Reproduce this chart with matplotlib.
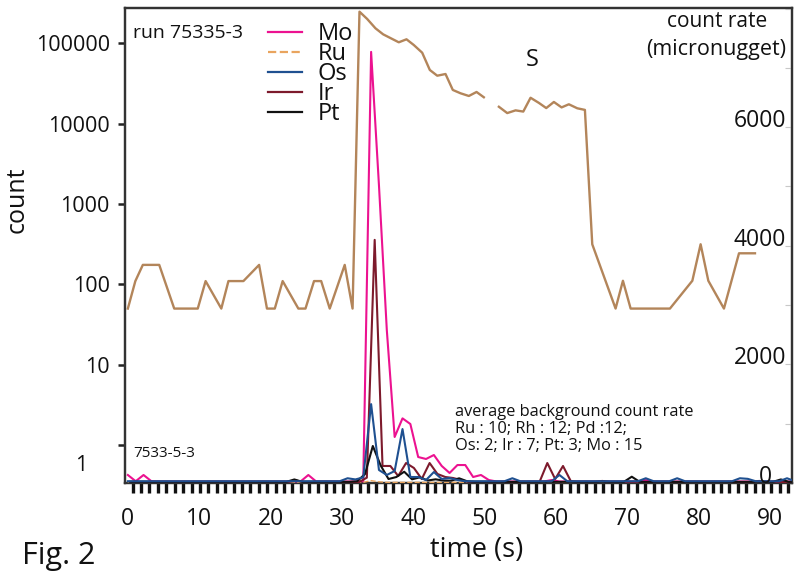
import numpy as np
import matplotlib
matplotlib.use('Agg')
import matplotlib.pyplot as plt
from matplotlib.transforms import blended_transform_factory as btf
from matplotlib.ticker import FixedLocator

plt.rcParams['font.family'] = ['Open Sans', 'DejaVu Sans']

# ---------------- data ----------------
# S (count, log scale, left axis)
t_s = [0, 1.05, 2.1, 4.4, 6.5, 9.8, 10.9, 13.1, 14.1, 16.2,
       18.4, 19.5, 20.6, 21.7, 23.9, 24.9, 26.1, 27.1, 28.3, 30.4,
       31.5, 32.47, 33.55, 34.71, 35.79, 37.98, 39.06, 40.08, 41.26, 42.33,
       43.37, 44.53, 45.55, 46.63, 47.80, 48.88, 49.90, 51.08, 51.5, 52.01,
       53.18, 54.35, 55.43, 56.45, 57.62, 58.65, 59.72, 60.80, 61.82, 63.0,
       64.07, 65.1, 68.37, 69.4, 70.48, 75.99, 79.13, 80.29, 81.37, 83.56,
       85.67, 87.91]
s_counts = [50, 110, 175, 175, 50, 50, 110, 50, 110, 110,
            175, 50, 50, 110, 50, 50, 110, 110, 50, 175,
            50, 249000, 202000, 154600, 130000, 103500, 112800, 95800, 76800, 46800,
            39700, 41700, 26400, 24000, 22200, 24900, 21400, np.nan, np.nan, 16300,
            13600, 14700, 14200, 21100, 18200, 15700, 18700, 16000, 17500, 15600,
            14900, 316, 50, 111, 50, 50, 111, 316, 111, 50,
            244, 244]

# element count rates (right axis), sampled every 1.1 s with per-element lag
dt = 1.1
lag = {'Mo': 0.0, 'Ru': 0.0, 'Os': 0.0, 'Ir': 0.5, 'Pt': 0.24}

mo = [135, 30, 135, 30, 25, 25, 25, 25, 25, 25,
      25, 25, 25, 25, 25, 25, 25, 25, 25, 25,
      25, 25, 25, 135, 25, 25, 25, 25, 25, 25,
      30, 7270, 5020, 2580, 776, 1090, 995, 438, 405, 472,
      287, 169, 303, 303, 101, 135, 50, 25, 25, 25,
      25, 25, 25, 25, 50, 25, 25, 25, 25, 25,
      25, 25, 25, 25, 25, 25, 50, 25, 25, 25,
      25, 25, 25, 25, 25, 25, 25, 25, 25, 25,
      25, 25, 25, 25, 25, 25]
ru = [10, 10, 10, 10, 10, 10, 10, 10, 10, 10,
      10, 10, 10, 10, 10, 10, 10, 10, 10, 10,
      10, 10, 10, 10, 10, 10, 10, 10, 10, 10,
      10, 40, 20, 10, 10, 10, 10, 10, 10, 10,
      10, 10, 10, 10, 10, 10, 10, 10, 10, 10,
      10, 10, 10, 10, 10, 10, 10, 10, 10, 10,
      10, 10, 10, 10, 10, 10, 10, 10, 10, 10,
      10, 10, 10, 10, 10, 10, 10, 10, 10, 10,
      10, 10, 10, 10, 10, 10]
os_ = [30, 30, 30, 30, 30, 30, 30, 30, 30, 30,
       30, 30, 30, 30, 30, 30, 30, 30, 30, 30,
       30, 30, 30, 30, 30, 30, 30, 30, 80, 60,
       95, 1330, 219, 135, 202, 910, 101, 101, 50, 185,
       67, 84, 50, 30, 30, 30, 30, 30, 30, 80,
       30, 30, 30, 30, 30, 135, 30, 30, 30, 30,
       30, 30, 30, 30, 30, 30, 80, 30, 30, 30,
       80, 30, 30, 30, 30, 30, 30, 30, 80, 70,
       30, 30, 30, 30, 80, 30]
ir = [15, 15, 15, 15, 15, 15, 15, 15, 15, 15,
      15, 15, 15, 15, 15, 15, 15, 15, 15, 15,
      15, 40, 15, 15, 15, 15, 15, 15, 15, 15,
      90, 4100, 287, 287, 118, 337, 253, 67, 337, 152,
      101, 84, 50, 15, 15, 15, 15, 15, 15, 15,
      15, 15, 15, 337, 67, 287, 30, 15, 15, 15,
      35, 15, 15, 15, 15, 15, 15, 15, 15, 15,
      15, 15, 15, 15, 15, 15, 15, 15, 15, 15,
      35, 15, 15, 15, 15, 15]
pt = [20, 20, 20, 20, 20, 20, 20, 20, 20, 20,
      20, 20, 20, 20, 20, 20, 20, 20, 20, 20,
      20, 60, 20, 20, 20, 20, 20, 20, 20, 30,
      150, 624, 295, 67, 101, 190, 62, 96, 42, 62,
      40, 40, 79, 30, 20, 20, 20, 20, 20, 20,
      20, 20, 20, 20, 20, 20, 20, 20, 20, 20,
      20, 20, 20, 20, 106, 20, 20, 20, 20, 20,
      20, 20, 20, 20, 20, 20, 20, 20, 20, 20,
      20, 20, 20, 60, 20, 20]

left_ticks = [1, 10, 100, 1000, 10000, 100000]
left_labels = ['1', '10', '100', '1000', '10000', '100000']
right_label_vals = [0, 2000, 4000, 6000]
x_major = [0, 10, 20, 30, 40, 50, 60, 70, 80, 90]

# ---------------- style ----------------
C_S = '#b3855a'
C_MO = '#ec1290'
C_RU = '#e9a45e'
C_OS = '#1f5090'
C_IR = '#7d1a2c'
C_PT = '#111111'
FRAME = '#333333'
TXT = '#111111'

fig = plt.figure(figsize=(8.05, 5.75), dpi=100)
ax = fig.add_axes([125/805, 1-483/575, (792-125)/805, (483-8)/575])
axr = ax.twinx()

# S on log axis
ax.set_yscale('log')
ax.plot(t_s, s_counts, color=C_S, lw=1.7, zorder=2)
ax.set_ylim(0.3364, 276700)
ax.set_xlim(-0.4, 93.1)

# elements on linear axis
n = len(mo)
k = np.arange(n)
series = [('Mo', mo, C_MO, '-'), ('Ru', ru, C_RU, '--'), ('Ir', ir, C_IR, '-'),
          ('Pt', pt, C_PT, '-'), ('Os', os_, C_OS, '-')]
handles = {}
for name, vals, col, ls in series:
    tt = k * dt + lag[name]
    lw = 1.0 if name == 'Ru' else 1.5
    h, = axr.plot(tt, vals, color=col, lw=lw, ls=ls, zorder=3)
    handles[name] = h
axr.set_ylim(0, 8010)

# axes frame
for a in (ax, axr):
    for sp in a.spines.values():
        sp.set_color(FRAME)
        sp.set_linewidth(1.6)

# left log ticks
ax.yaxis.set_major_locator(FixedLocator(left_ticks))
ax.yaxis.set_minor_locator(FixedLocator([]))
ax.set_yticklabels([''] + left_labels[1:])
ax.tick_params(axis='y', which='major', direction='out', length=5, width=1.8,
               color='#222222', labelsize=15.5, pad=6, labelcolor=TXT)
ax.annotate(left_labels[0], xy=(0, left_ticks[0]), xycoords=btf(ax.transAxes, ax.transData),
            xytext=(-27, -14.5), textcoords='offset points', ha='right', va='center',
            fontsize=15.5, color=TXT)

# right ticks (inward, light) and labels inside
axr.yaxis.set_major_locator(FixedLocator(np.arange(0, 8001, 1000)))
axr.tick_params(axis='y', which='major', direction='in', length=5, width=0.8,
                color='#c8c8c8', labelright=False)
rtr = btf(axr.transAxes, axr.transData)
for v in right_label_vals:
    xr = 0.970 if v == 0 else 0.991
    axr.text(xr, v, str(v), transform=rtr, ha='right', va='baseline',
             fontsize=16.5, color=TXT)

# x ticks
ax.set_xticks(x_major)
ax.set_xticklabels([str(v) for v in x_major])
ax.xaxis.set_minor_locator(FixedLocator(np.arange(-0.5, 93.2, 1.178)))
ax.tick_params(axis='x', which='major', length=0, labelsize=16.5, pad=17.5,
               labelcolor=TXT)
ax.tick_params(axis='x', which='minor', direction='out', length=7, width=2.4,
               color='#111111')

# labels
ax.set_ylabel('count', fontsize=18, color=TXT)
ax.yaxis.set_label_coords(-0.1424, 0.596)
fig.text(477/805, 1-550/575, 'time (s)', fontsize=19.5, ha='center', va='center',
         color=TXT)
fig.text(22/805, 1-556/575, 'Fig. 2', fontsize=22, ha='left', va='center',
         color=TXT)

axr.text(0.888, 0.972, 'count rate', transform=axr.transAxes, ha='center',
         va='center', fontsize=15, color=TXT)
axr.text(0.886, 0.9116, '(micronugget)', transform=axr.transAxes, ha='center',
         va='center', fontsize=15.5, color=TXT)
axr.text(0.610, 0.8905, 'S', transform=axr.transAxes, ha='center', va='center',
         fontsize=17, color=TXT)
axr.text(0.012, 0.947, 'run 75335-3', transform=axr.transAxes, ha='left',
         va='center', fontsize=14, color=TXT)
axr.text(0.012, 0.063, '7533-5-3', transform=axr.transAxes, ha='left',
         va='center', fontsize=11, color=TXT)
axr.text(0.4948, 0.1137,
         'average background count rate\nRu : 10; Rh : 12; Pd :12;\nOs: 2; Ir : 7; Pt: 3; Mo : 15',
         transform=axr.transAxes, ha='left', va='center', fontsize=11.8,
         linespacing=1.12, color=TXT)

order = ['Mo', 'Ru', 'Os', 'Ir', 'Pt']
leg = axr.legend([handles[o] for o in order], order, loc='upper left',
                 bbox_to_anchor=(268/805, 1-22/575), bbox_transform=fig.transFigure,
                 frameon=False, fontsize=17, handlelength=1.45, handletextpad=0.65,
                 labelspacing=-0.17, borderpad=0, borderaxespad=0)
for t in leg.get_texts():
    t.set_color(TXT)
for line in leg.get_lines():
    line.set_linewidth(1.6)

fig.savefig('out.png', dpi=100)
